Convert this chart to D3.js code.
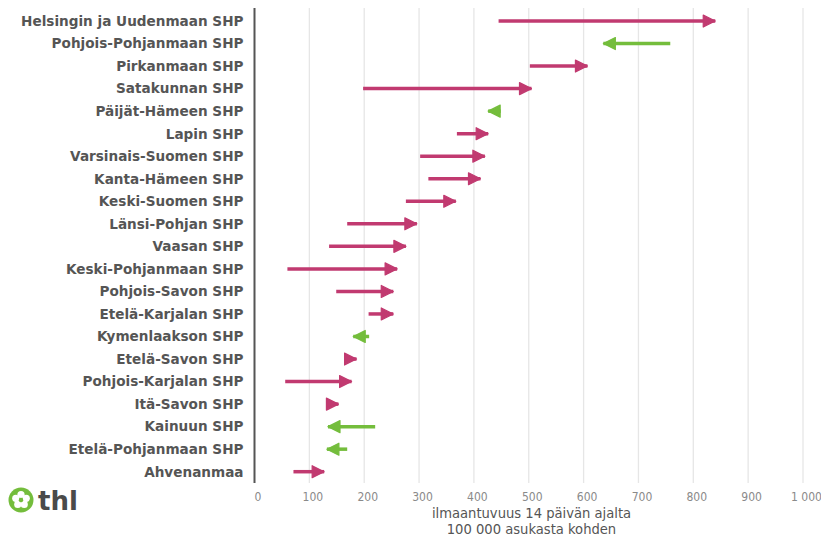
<!DOCTYPE html>
<html>
<head>
<meta charset="utf-8">
<script src="https://cdn.jsdelivr.net/npm/d3@7"></script>
<style>
  html, body { margin: 0; padding: 0; background: #fff; }
  svg { display: block; }
</style>
</head>
<body>
<svg id="chart" width="821" height="537"></svg>
<script>
const categories = [
  "Helsingin ja Uudenmaan SHP", "Pohjois-Pohjanmaan SHP", "Pirkanmaan SHP", "Satakunnan SHP",
  "Päijät-Hämeen SHP", "Lapin SHP", "Varsinais-Suomen SHP", "Kanta-Hämeen SHP",
  "Keski-Suomen SHP", "Länsi-Pohjan SHP", "Vaasan SHP", "Keski-Pohjanmaan SHP",
  "Pohjois-Savon SHP", "Etelä-Karjalan SHP", "Kymenlaakson SHP", "Etelä-Savon SHP",
  "Pohjois-Karjalan SHP", "Itä-Savon SHP", "Kainuun SHP", "Etelä-Pohjanmaan SHP", "Ahvenanmaa"
];
// incidence per 100 000, previous 14-day period (arrow start)
const previous = [445, 758, 502, 198, 449, 369, 302, 317, 276, 169, 136, 60, 149, 208, 209, 164, 56, 140, 220, 169, 71];
// incidence per 100 000, latest 14-day period (arrow tip)
const latest = [840, 636, 607, 505, 426, 426, 420, 412, 367, 296, 276, 260, 253, 253, 180, 186, 177, 153, 134, 132, 127];
const xTicks = [0, 100, 200, 300, 400, 500, 600, 700, 800, 900, 1000];
const axisTitle = ["ilmaantuvuus 14 päivän ajalta", "100 000 asukasta kohden"];

const colorUp = "#c13a70";
const colorDown = "#74bd3c";

const svg = d3.select("#chart");
const x = d3.scaleLinear().domain([0, 1000]).range([254.5, 803]);
const y = d3.scalePoint().domain(categories).range([21, 471.7]);
const plotTop = 8, plotBottom = 483;

// gridlines
svg.append("g").selectAll("line").data(xTicks.filter(d => d > 0)).join("line")
  .attr("x1", d => x(d)).attr("x2", d => x(d))
  .attr("y1", plotTop).attr("y2", plotBottom)
  .attr("stroke", "#e6e6e6").attr("stroke-width", 1.3);

// x axis tick labels
const fmt = v => v >= 1000 ? d3.format(",")(v).replace(",", " ") : String(v);
const xAxis = d3.axisBottom(x).tickValues(xTicks).tickSize(0).tickPadding(0).tickFormat(fmt);
const gx = svg.append("g").attr("transform", `translate(3,${plotBottom})`).call(xAxis);
gx.select(".domain").remove();
gx.selectAll("text")
  .attr("dy", "0")
  .attr("y", 18)
  .attr("fill", "#8a8a8a")
  .style("font-family", "'DejaVu Sans Condensed', 'DejaVu Sans', sans-serif")
  .style("font-size", "12px");

// axis title
svg.append("text")
  .attr("x", x(505)).attr("y", 518)
  .attr("text-anchor", "middle")
  .attr("fill", "#555")
  .style("font-family", "'DejaVu Sans Condensed', 'DejaVu Sans', sans-serif")
  .style("font-size", "14.6px")
  .selectAll("tspan").data(axisTitle).join("tspan")
  .attr("x", x(505)).attr("dy", (d, i) => i === 0 ? 0 : 16)
  .text(d => d);

// y labels
const yAxis = d3.axisLeft(y).tickSize(0).tickPadding(9);
const gy = svg.append("g").attr("transform", `translate(${x(0) - 2},0)`).call(yAxis);
gy.select(".domain").remove();
gy.selectAll("text")
  .attr("fill", "#555")
  .style("font-family", "'DejaVu Sans', sans-serif")
  .style("font-weight", "bold")
  .style("font-size", "13.6px");

// vertical axis line
svg.append("line")
  .attr("x1", x(0)).attr("x2", x(0))
  .attr("y1", plotTop).attr("y2", plotBottom)
  .attr("stroke", "#555").attr("stroke-width", 2);

// arrow markers
const defs = svg.append("defs");
[["up", colorUp], ["down", colorDown]].forEach(([id, c]) => {
  defs.append("marker")
    .attr("id", "head-" + id)
    .attr("markerUnits", "userSpaceOnUse")
    .attr("viewBox", "0 0 14 14")
    .attr("markerWidth", 14).attr("markerHeight", 14)
    .attr("refX", 13).attr("refY", 7)
    .attr("orient", "auto")
    .append("path")
    .attr("d", "M1,1 L13,7 L1,13 Z")
    .attr("fill", c).attr("stroke", c)
    .attr("stroke-width", 1.2).attr("stroke-linejoin", "round");
});

const rows = categories.map((c, i) => ({ cat: c, from: previous[i], to: latest[i] }));
svg.append("g").selectAll("line").data(rows).join("line")
  .attr("x1", d => x(d.from))
  .attr("x2", d => x(d.to))
  .attr("y1", d => y(d.cat)).attr("y2", d => y(d.cat))
  .attr("stroke", d => d.to >= d.from ? colorUp : colorDown)
  .attr("stroke-width", 3.5)
  .attr("marker-end", d => d.to >= d.from ? "url(#head-up)" : "url(#head-down)");

// thl logo
const logo = svg.append("g").attr("transform", "translate(21,500)");
logo.append("circle").attr("r", 12.5).attr("fill", "#74bd3c");
for (let k = 0; k < 5; k++) {
  const a = (k * 72 - 90) * Math.PI / 180;
  logo.append("ellipse")
    .attr("cx", Math.cos(a) * 5.5).attr("cy", Math.sin(a) * 5.5)
    .attr("rx", 3.6).attr("ry", 3.6)
    .attr("fill", "#fff");
}
logo.append("circle").attr("r", 2.2).attr("fill", "#74bd3c");
svg.append("text")
  .attr("x", 38).attr("y", 510)
  .attr("fill", "#4a4a4a")
  .style("font-family", "'DejaVu Sans', sans-serif")
  .style("font-weight", "bold")
  .style("font-size", "26px")
  .text("thl");
</script>
</body>
</html>
